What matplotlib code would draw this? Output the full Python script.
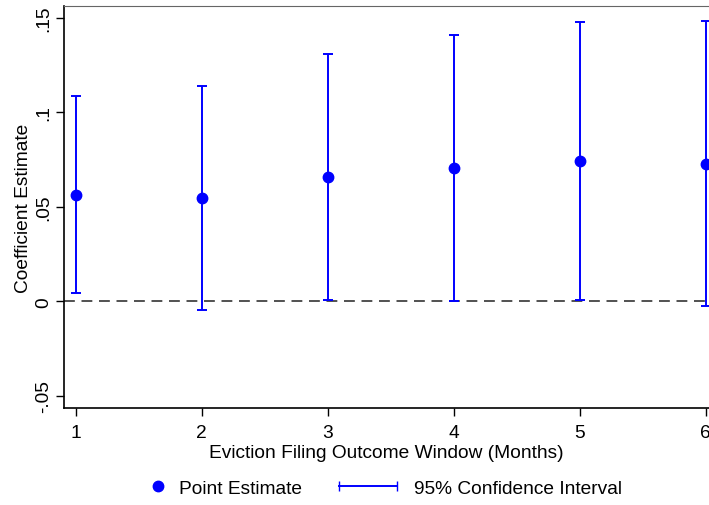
import matplotlib
matplotlib.use("Agg")
import matplotlib.pyplot as plt
from matplotlib.lines import Line2D
from matplotlib.legend_handler import HandlerLine2D

plt.rcParams['font.family'] = ['Liberation Sans', 'DejaVu Sans']

# Data
months = [1, 2, 3, 4, 5, 6]
estimate = [0.0564, 0.0547, 0.0658, 0.0705, 0.0741, 0.0726]
ci_low = [0.0044, -0.0044, 0.0008, 0.0002, 0.0004, -0.0025]
ci_high = [0.1085, 0.1138, 0.1307, 0.1411, 0.1476, 0.1480]
yticks = [-0.05, 0, 0.05, 0.1, 0.15]
ytick_labels = ['-.05', '0', '.05', '.1', '.15']

fs = 13.8
fig = plt.figure(figsize=(7.09, 5.06), dpi=100)
ax = fig.add_axes([64/709, 1 - 409/506, 1 - 64/709, (409 - 7)/506])

err_lo = [e - l for e, l in zip(estimate, ci_low)]
err_hi = [h - e for e, h in zip(estimate, ci_high)]
ax.errorbar(months, estimate, yerr=[err_lo, err_hi], fmt='none',
            ecolor='#0000ff', elinewidth=1.4, capsize=3.5, capthick=1.4, zorder=3)
ax.plot(months, estimate, 'o', color='#0000ff', markersize=7.5, zorder=4)
ax.axhline(0, color='#333333', lw=1.2, ls=(0, (6.5, 4)), zorder=2)

ax.set_xlim(0.907, 6.026)
ax.set_ylim(-0.0565, 0.1562)
ax.set_xticks(months)
ax.set_yticks(yticks)
ax.set_yticklabels(ytick_labels, rotation=90, va='center')
ax.tick_params(direction='out', length=5.5, width=1, labelsize=fs)
ax.tick_params(axis='x', pad=6)
ax.tick_params(axis='y', pad=3)

ax.spines['right'].set_visible(False)
ax.spines['top'].set_color('#666666')
for s in ['left', 'bottom']:
    ax.spines[s].set_linewidth(1.2)

ax.set_xlabel('Eviction Filing Outcome Window (Months)', fontsize=fs, labelpad=2)
ax.set_ylabel('Coefficient Estimate', fontsize=fs, labelpad=2)

pt = Line2D([], [], ls='none', marker='o', color='#0000ff', markersize=7.5)
ci = Line2D([], [], color='#0000ff', lw=1.4, marker='|', markersize=7)
fig.legend([pt], ['Point Estimate'], loc='center left',
           bbox_to_anchor=(148/709, 1 - 489/506), frameon=False,
           fontsize=fs, handlelength=1.0, handletextpad=0.6,
           borderpad=0, borderaxespad=0)
fig.legend([ci], ['95% Confidence Interval'], loc='center left',
           bbox_to_anchor=(333/709, 1 - 489/506), frameon=False,
           fontsize=fs, handlelength=3.65, handletextpad=0.6,
           borderpad=0, borderaxespad=0,
           handler_map={ci: HandlerLine2D(numpoints=2)})

fig.savefig('out.png', dpi=100)
